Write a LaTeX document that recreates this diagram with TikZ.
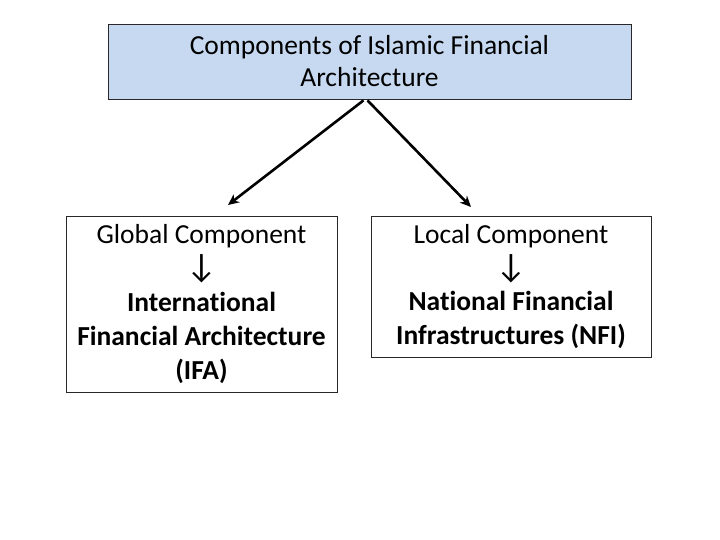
\documentclass[tikz,border=0pt]{standalone}
\usepackage{fontspec}
\setmainfont{Carlito}[RawFeature=-liga]
\usepackage{tikz}
\usetikzlibrary{arrows,arrows.meta,shapes,positioning}
\usepackage{xcolor}
\definecolor{iflightblue}{RGB}{198,217,241}
\definecolor{ifborder}{RGB}{40,40,40}
\newcommand{\darrow}{{\fontsize{34}{34}\selectfont ↓}}
\tikzstyle{arrow} = [line width=2.6pt,-{Stealth[length=11pt,width=10pt]},color=black]
\tikzstyle{titlebox} = [rectangle, minimum width=523pt, minimum height=75pt, align=center, draw=ifborder, fill=iflightblue, line width=0.8pt, inner sep=0pt, font=\fontsize{27.5}{32}\selectfont]
\tikzstyle{compbox} = [rectangle, align=center, draw=ifborder, fill=white, line width=0.8pt, inner sep=0pt, font=\fontsize{27.5}{33.8}\selectfont]

\begin{document}
\begin{tikzpicture}[x=1pt,y=-1pt]
\useasboundingbox (0,0) rectangle (720,540);
% Title
\node[titlebox] (title) at (369.5,61.5) {Components of Islamic Financial\\Architecture};

% Global component
\node[compbox, minimum width=271pt, minimum height=176pt] (global) at (201.5,304) {Global Component\\\darrow\\\textbf{International}\\\textbf{Financial Architecture}\\\textbf{(IFA)}};

% Local component
\node[compbox, minimum width=280pt, minimum height=141pt] (local) at (511,286.5) {Local Component\\\darrow\\\textbf{National Financial}\\\textbf{Infrastructures (NFI)}};

% Arrow ends
\coordinate (globaltip) at (228,205);
\coordinate (localtip) at (471,207);

% Arrows
\draw[arrow] ([xshift=-6pt,yshift=-1pt]title.south) -- (globaltip);
\draw[arrow] ([xshift=-2pt,yshift=-1pt]title.south) -- (localtip);
\end{tikzpicture}
\end{document}
